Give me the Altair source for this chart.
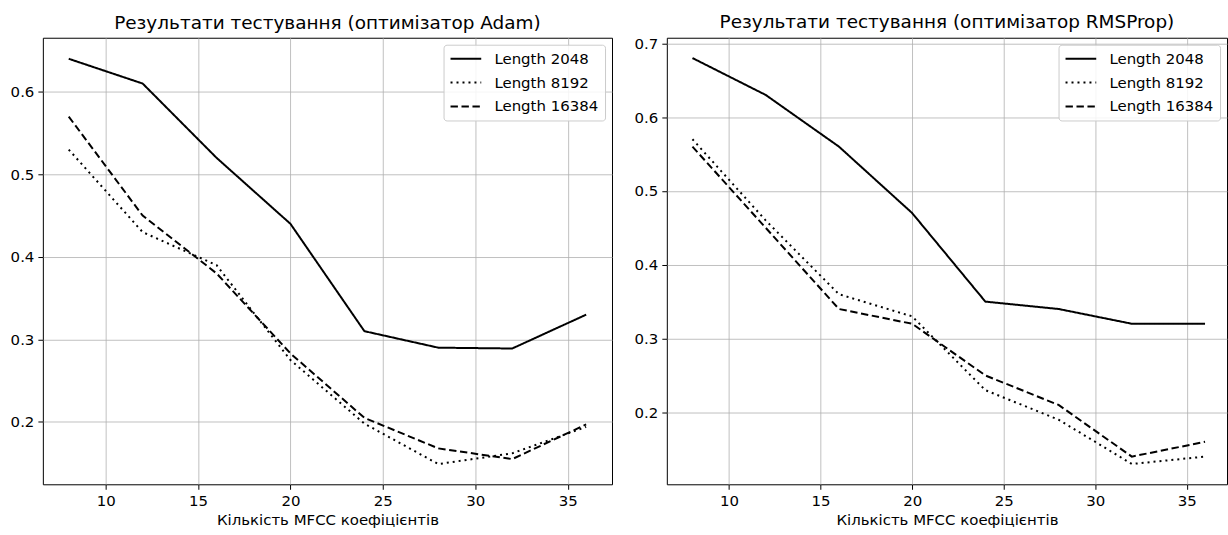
import altair as alt
import pandas as pd

x_vals = [8, 12, 16, 20, 24, 28, 32, 36]
series_names = ["Length 2048", "Length 8192", "Length 16384"]

adam_2048 = [0.64, 0.61, 0.52, 0.44, 0.31, 0.29, 0.289, 0.33]
adam_8192 = [0.53, 0.43, 0.39, 0.275, 0.198, 0.149, 0.162, 0.194]
adam_16384 = [0.57, 0.45, 0.38, 0.283, 0.205, 0.168, 0.155, 0.197]

rms_2048 = [0.68, 0.63, 0.56, 0.47, 0.35, 0.34, 0.32, 0.32]
rms_8192 = [0.57, 0.46, 0.36, 0.33, 0.23, 0.19, 0.13, 0.14]
rms_16384 = [0.56, 0.45, 0.34, 0.32, 0.25, 0.21, 0.14, 0.16]

x_ticks = [10, 15, 20, 25, 30, 35]
adam_y_ticks = [0.2, 0.3, 0.4, 0.5, 0.6]
rms_y_ticks = [0.2, 0.3, 0.4, 0.5, 0.6, 0.7]

title_adam = "Результати тестування (оптимізатор Adam)"
title_rms = "Результати тестування (оптимізатор RMSProp)"
x_title = "Кількість MFCC коефіцієнтів"

FONT = "DejaVu Sans"


def make_df(s1, s2, s3):
    rows = []
    for name, vals in zip(series_names, [s1, s2, s3]):
        for x, y in zip(x_vals, vals):
            rows.append({"x": x, "y": y, "series": name})
    return pd.DataFrame(rows)


def panel(df, title, ydom, yticks, width, xdom):
    return alt.Chart(df).mark_line(color="black", strokeWidth=2, clip=True).encode(
        x=alt.X("x:Q",
                scale=alt.Scale(domain=xdom, nice=False, zero=False),
                axis=alt.Axis(values=x_ticks, format="d", title=x_title)),
        y=alt.Y("y:Q",
                scale=alt.Scale(domain=ydom, nice=False, zero=False),
                axis=alt.Axis(values=yticks, format=".1f", title=None)),
        strokeDash=alt.StrokeDash(
            "series:N",
            scale=alt.Scale(domain=series_names,
                            range=[[1, 0], [2, 4], [7.4, 3.6]]),
            legend=alt.Legend(
                title=None,
                orient="top-right",
                offset=7,
                padding=6,
                fillColor="rgba(255,255,255,0.85)",
                strokeColor="#cccccc",
                cornerRadius=3,
                symbolType="M-1,0H3.4",
                symbolSize=196,
                symbolStrokeWidth=2,
                symbolStrokeColor="black",
                symbolFillColor="transparent",
                labelOffset=29,
                labelFont=FONT,
                labelFontSize=15,
                labelColor="black",
                rowPadding=8,
            ),
        ),
    ).properties(
        width=width,
        height=448,
        title=alt.TitleParams(title, font=FONT, fontSize=18.5, fontWeight="normal",
                              color="black", anchor="middle", frame="group", offset=5),
    )


left = panel(make_df(adam_2048, adam_8192, adam_16384), title_adam,
             [0.1245, 0.6655], adam_y_ticks, 571, [6.6, 37.4])
right = panel(make_df(rms_2048, rms_8192, rms_16384), title_rms,
              [0.1025, 0.7075], rms_y_ticks, 562, [6.6, 37.2])

chart = alt.hconcat(left, right, spacing=20).resolve_scale(
    x="independent", y="independent", strokeDash="independent"
).resolve_legend(strokeDash="independent").properties(
    padding={"left": 9, "top": 11, "right": 0, "bottom": 0},
    background="white",
).configure_view(
    stroke="black", strokeWidth=1
).configure_axis(
    labelFont=FONT, labelFontSize=15, labelColor="black",
    titleFont=FONT, titleFontSize=15, titleFontWeight="normal", titleColor="black",
    tickColor="black", tickSize=5, tickWidth=1,
    domain=False,
    gridColor="#b0b0b0", gridWidth=0.8,
    labelPadding=4, titlePadding=4,
)

chart.save("out.html", embed_options={"renderer": "svg", "actions": False})
